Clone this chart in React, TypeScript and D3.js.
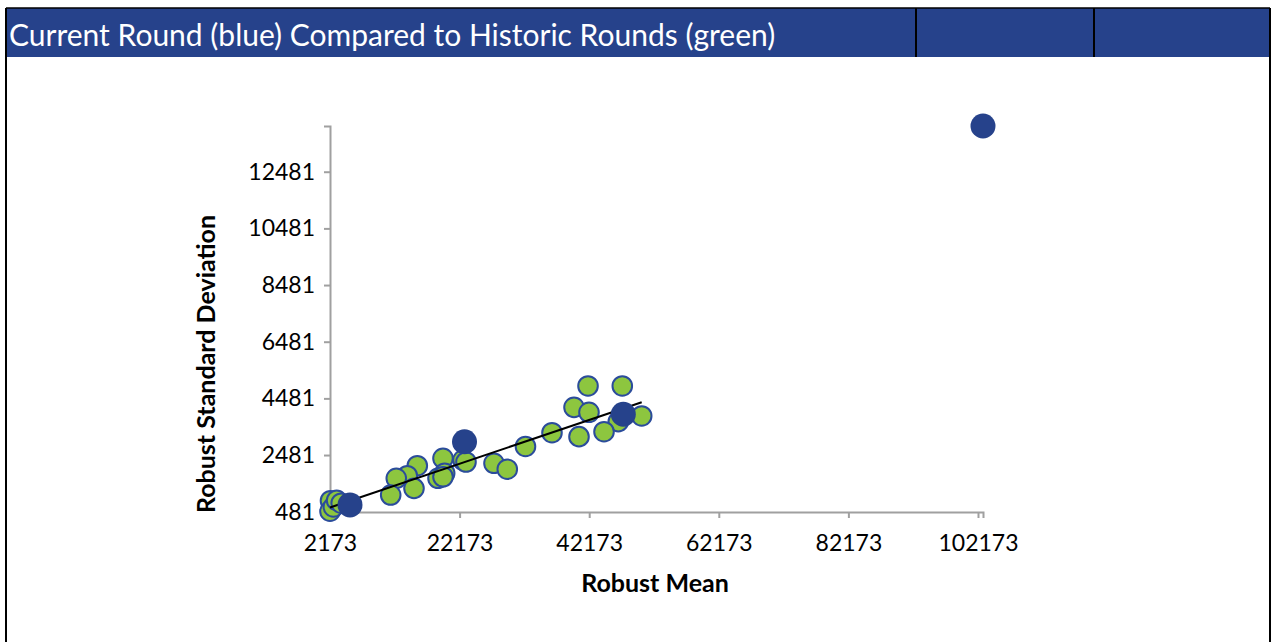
import React, { useEffect, useRef } from 'react';
import * as d3 from 'd3';

// historic rounds (green)
const historicMean = [41990, 47280, 39830, 42140, 50275, 46660, 44460, 40600, 36430, 32340, 19610, 22700, 23160, 27480, 29530, 15645, 14100, 12400, 19870, 18840, 19610, 15135, 11540, 2250, 2173, 2700, 3200, 3900];
const historicSD = [4920, 4920, 4165, 3990, 3860, 3660, 3305, 3130, 3270, 2785, 2365, 2305, 2235, 2190, 1980, 2105, 1750, 1660, 1840, 1660, 1715, 1305, 1070, 870, 500, 650, 880, 780];

// current round (blue)
const currentMean = [5260, 22930, 47435, 102945];
const currentSD = [720, 2950, 3920, 14095];

const xTicks = [2173, 22173, 42173, 62173, 82173, 102173];
const yTicks = [481, 2481, 4481, 6481, 8481, 10481, 12481];

const W = 1273;
const H = 642;
const FONT = 'Lato, Carlito, Calibri, sans-serif';

export default function App() {
  const ref = useRef<SVGSVGElement>(null);

  useEffect(() => {
    drawChart();
  }, []);

  function drawChart() {
    const svg = d3.select(ref.current);
    svg.selectAll('*').remove();

    // frame + header band
    svg.append('rect').attr('x', 0).attr('y', 0).attr('width', W).attr('height', H).attr('fill', '#fff');
    svg.append('rect').attr('x', 6).attr('y', 8).attr('width', 1264).attr('height', 49).attr('fill', '#26428b');
    svg.append('line').attr('x1', 6).attr('x2', 1270).attr('y1', 8).attr('y2', 8).attr('stroke', '#000').attr('stroke-width', 1.5);
    [916, 1094].forEach(x => {
      svg.append('line').attr('x1', x).attr('x2', x).attr('y1', 8).attr('y2', 57).attr('stroke', '#000').attr('stroke-width', 2);
    });
    svg.append('line').attr('x1', 6).attr('x2', 6).attr('y1', 8).attr('y2', H).attr('stroke', '#000').attr('stroke-width', 2);
    svg.append('line').attr('x1', 1270).attr('x2', 1270).attr('y1', 8).attr('y2', H).attr('stroke', '#000').attr('stroke-width', 2);
    svg.append('text')
      .attr('x', 9).attr('y', 46)
      .attr('fill', '#fff')
      .style('font-family', FONT)
      .style('font-size', '30px')
      .text('Current Round (blue) Compared to Historic Rounds (green)');

    const xScale = d3.scaleLinear().domain([2173, 102945]).range([330, 983]);
    const yScale = d3.scaleLinear().domain([481, 14095]).range([511.7, 126]);

    const xAxis = svg.append('g')
      .attr('transform', 'translate(0,512)')
      .call(d3.axisBottom(xScale).tickValues(xTicks).tickSizeOuter(0).tickSize(6).tickPadding(17).tickFormat(d3.format('d')));
    const yAxis = svg.append('g')
      .attr('transform', 'translate(330,0)')
      .call(d3.axisLeft(yScale).tickValues(yTicks).tickSizeOuter(0).tickSize(6).tickPadding(9).tickFormat(d3.format('d')));
    [xAxis, yAxis].forEach(g => {
      g.select('.domain').attr('stroke', '#a0a0a0').attr('stroke-width', 2);
      g.selectAll('.tick line').attr('stroke', '#a0a0a0').attr('stroke-width', 2);
      g.selectAll('.tick text').attr('fill', '#000').style('font-family', FONT).style('font-size', '23px');
    });

    svg.append('text')
      .attr('x', 655).attr('y', 592)
      .attr('text-anchor', 'middle')
      .style('font-family', FONT).style('font-size', '25px').style('font-weight', 'bold')
      .text('Robust Mean');
    svg.append('text')
      .attr('transform', 'translate(215,364) rotate(-90)')
      .attr('text-anchor', 'middle')
      .style('font-family', FONT).style('font-size', '25px').style('font-weight', 'bold')
      .text('Robust Standard Deviation');

    const historic = historicMean.map((m, i) => ({ m, s: historicSD[i] }));
    const current = currentMean.map((m, i) => ({ m, s: currentSD[i] }));

    svg.append('g').selectAll('circle').data(historic).join('circle')
      .attr('cx', d => xScale(d.m))
      .attr('cy', d => yScale(d.s))
      .attr('r', 9.8)
      .attr('fill', '#8dc63f')
      .attr('stroke', '#2b4c9b')
      .attr('stroke-width', 2);

    // linear trendline on historic rounds
    const mx = d3.mean(historic, d => d.m) as number;
    const my = d3.mean(historic, d => d.s) as number;
    const slope = d3.sum(historic, d => (d.m - mx) * (d.s - my)) / d3.sum(historic, d => (d.m - mx) ** 2);
    const icpt = my - slope * mx;
    const [x0, x1] = d3.extent(historic, d => d.m) as [number, number];
    const line = d3.line<number>().x(d => xScale(d)).y(d => yScale(icpt + slope * d));
    svg.append('path')
      .datum([x0, x1])
      .attr('fill', 'none')
      .attr('stroke', '#000')
      .attr('stroke-width', 2)
      .attr('d', line);

    svg.append('g').selectAll('circle').data(current).join('circle')
      .attr('cx', d => xScale(d.m))
      .attr('cy', d => yScale(d.s))
      .attr('r', 12.5)
      .attr('fill', '#26428b');
  }

  return (
    <div style={{ position: 'absolute', left: 0, top: 0 }}>
      <svg ref={ref} width={W} height={H} />
    </div>
  );
}
